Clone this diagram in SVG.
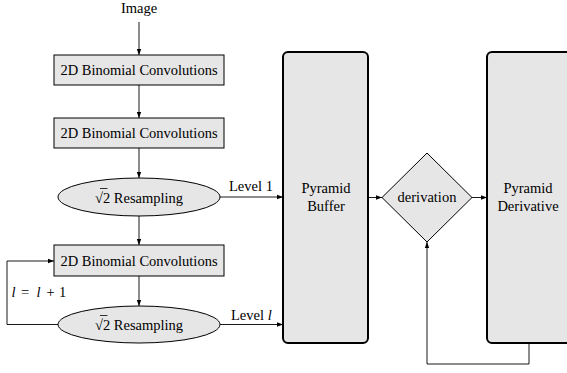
<svg xmlns="http://www.w3.org/2000/svg" width="567" height="373" viewBox="0 0 567 373" font-family="Liberation Serif, serif">
<defs>
<marker id="ah" viewBox="0 0 6 6" refX="6" refY="3" markerWidth="6" markerHeight="6" markerUnits="userSpaceOnUse" orient="auto">
<path d="M0,0.8 L6,3 L0,5.2 Z" fill="#000"/>
</marker>
<style>
text{font-family:'Liberation Serif','Times New Roman',serif;font-size:14.5px;fill:#000}
.c{text-anchor:middle}
.box{fill:#e6e6e6;stroke:#000;stroke-width:1}
.big{fill:#e6e6e6;stroke:#000;stroke-width:2}
.arr{fill:none;stroke:#000;stroke-width:0.9;marker-end:url(#ah)}
.bar{stroke:#000;stroke-width:0.8}
.it{font-style:italic}
</style>
</defs>
<rect width="567" height="373" fill="#fff"/>
<g id="image"><text class="c" x="139" y="12.5">Image</text></g>
<g id="conv1"><rect class="box" x="54" y="55" width="170" height="30"/><text class="c" x="139" y="75">2D Binomial Convolutions</text></g>
<g id="conv2"><rect class="box" x="54" y="118" width="170" height="30"/><text class="c" x="139" y="138">2D Binomial Convolutions</text></g>
<g id="resample1"><ellipse class="box" cx="139" cy="197" rx="81" ry="19"/><text class="c" x="139" y="203">√2 Resampling</text><line class="bar" x1="100" y1="188.5" x2="107.5" y2="188.5"/></g>
<g id="conv3"><rect class="box" x="54" y="245" width="170" height="31"/><text class="c" x="139" y="266">2D Binomial Convolutions</text></g>
<g id="resample2"><ellipse class="box" cx="139" cy="324.5" rx="81" ry="18.5"/><text class="c" x="139" y="330">√2 Resampling</text><line class="bar" x1="100" y1="315.5" x2="107.5" y2="315.5"/></g>
<g id="buffer"><rect class="big" x="283" y="52" width="85" height="291" rx="5"/><text class="c" x="326" y="193">Pyramid</text><text class="c" x="326" y="211">Buffer</text></g>
<g id="derivation"><polygon class="box" points="427,153 472,197.5 427,242 382,197.5"/><text class="c" x="427" y="202">derivation</text></g>
<g id="derivative"><rect class="big" x="487" y="52" width="90" height="291" rx="5"/><text class="c" x="528" y="193">Pyramid</text><text class="c" x="528" y="211">Derivative</text></g>
<g id="connectors">
<line class="arr" x1="139" y1="22" x2="139" y2="55"/>
<line class="arr" x1="139" y1="85" x2="139" y2="118"/>
<line class="arr" x1="139" y1="148" x2="139" y2="178"/>
<line class="arr" x1="139" y1="216" x2="139" y2="245"/>
<line class="arr" x1="139" y1="276" x2="139" y2="306"/>
<polyline class="arr" points="58,324.5 7,324.5 7,261 54,261"/>
<line class="arr" x1="220" y1="197" x2="283" y2="197"/>
<line class="arr" x1="220" y1="324.5" x2="283" y2="324.5"/>
<line class="arr" x1="368" y1="197.5" x2="382" y2="197.5"/>
<line class="arr" x1="472" y1="197.5" x2="487" y2="197.5"/>
<polyline class="arr" points="529,343 529,364 427,364 427,242"/>
<text x="229" y="191">Level 1</text>
<text x="231" y="320">Level <tspan class="it">l</tspan></text>
<text x="11.5" y="297"><tspan class="it">l</tspan><tspan x="21">=</tspan><tspan class="it" x="36.5">l</tspan><tspan x="46.5">+</tspan><tspan x="59">1</tspan></text>
</g>
</svg>
